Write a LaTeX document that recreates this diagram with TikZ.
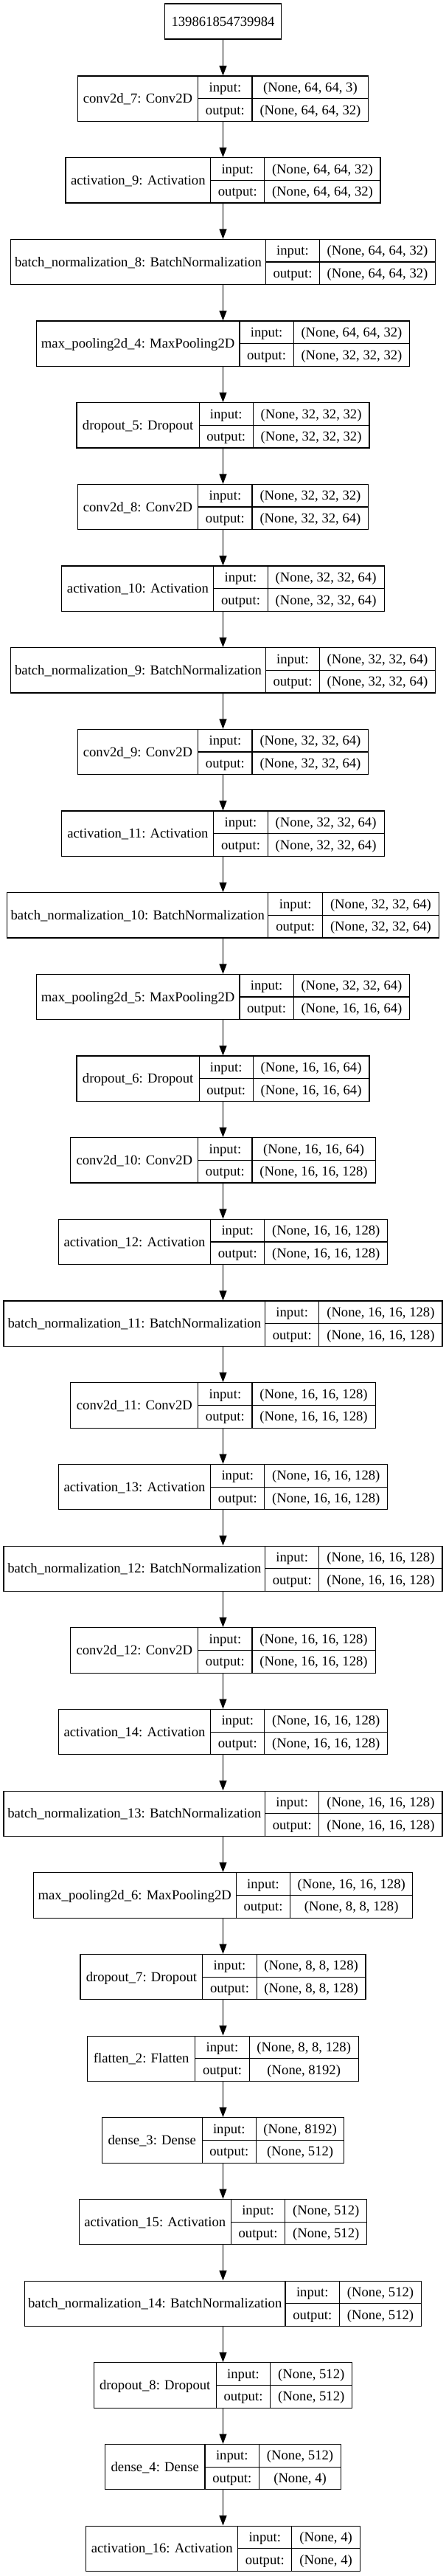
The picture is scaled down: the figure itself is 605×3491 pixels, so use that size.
\documentclass[tikz,border=0pt]{standalone}
\usepackage{fontspec}
\setmainfont{Liberation Serif}
\usetikzlibrary{arrows.meta}
\tikzset{
  rec/.style={draw, line width=0.8pt, rectangle, inner sep=0pt, minimum height=46pt},
  cell/.style={rectangle, inner sep=0pt, outer sep=0pt,
    font=\fontsize{14}{16}\selectfont, text height=12pt, text depth=3pt},
  topbox/.style={cell, draw, line width=0.8pt, minimum width=119pt, minimum height=36pt},
  divider/.style={line width=0.8pt},
  arr/.style={line width=0.8pt, -{Triangle[length=10pt,width=7.5pt]}},
}
% #1 index, #2 left x, #3 first divider x, #4 second divider x, #5 label, #6 input shape, #7 output shape
\newcommand{\kerasrec}[7]{%
  \pgfmathsetmacro{\krY}{133.67+#1*110.667}%
  \pgfmathsetmacro{\krX}{605-#2}%
  \node[rec, minimum width={(\krX-#2)*0.75pt}] (R#1) at (302.5,\krY) {};
  \node[cell, minimum width={(#3-#2)*0.75pt}, minimum height=46pt] (L#1) at ({(#2+#3)/2},\krY) {#5};
  \node[cell, minimum width={(#4-#3)*0.75pt}, minimum height=23pt] (I#1) at ({(#3+#4)/2},{\krY-15.333}) {input:};
  \node[cell, minimum width={(#4-#3)*0.75pt}, minimum height=23pt] (O#1) at ({(#3+#4)/2},{\krY+15.333}) {output:};
  \node[cell, minimum width={(\krX-#4)*0.75pt}, minimum height=23pt] (SI#1) at ({(#4+\krX)/2},{\krY-15.333}) {#6};
  \node[cell, minimum width={(\krX-#4)*0.75pt}, minimum height=23pt] (SO#1) at ({(#4+\krX)/2},{\krY+15.333}) {#7};
  \draw[divider] (L#1.north east) -- (L#1.south east);
  \draw[divider] (I#1.north east) -- (O#1.south east);
  \draw[divider] (I#1.south west) -- (SI#1.south east);
}
\begin{document}
\begin{tikzpicture}[x=0.75pt, y=-0.75pt]
\useasboundingbox (0,0) rectangle (605,3491);
\fill[white] (0,0) rectangle (605,3491);
\node[topbox] (T) at (302.5,29) {139861854739984};
\kerasrec{0}{105.1}{268.8}{342.0}{conv2d\_7: Conv2D}{(None, 64, 64, 3)}{(None, 64, 64, 32)}
\kerasrec{1}{89.0}{285.7}{358.9}{activation\_9: Activation}{(None, 64, 64, 32)}{(None, 64, 64, 32)}
\kerasrec{2}{14.6}{360.4}{433.6}{batch\_normalization\_8: BatchNormalization}{(None, 64, 64, 32)}{(None, 64, 64, 32)}
\kerasrec{3}{49.3}{325.0}{398.2}{max\_pooling2d\_4: MaxPooling2D}{(None, 64, 64, 32)}{(None, 32, 32, 32)}
\kerasrec{4}{104.0}{270.3}{343.1}{dropout\_5: Dropout}{(None, 32, 32, 32)}{(None, 32, 32, 32)}
\kerasrec{5}{105.1}{268.8}{342.0}{conv2d\_8: Conv2D}{(None, 32, 32, 32)}{(None, 32, 32, 64)}
\kerasrec{6}{83.9}{289.9}{363.1}{activation\_10: Activation}{(None, 32, 32, 64)}{(None, 32, 32, 64)}
\kerasrec{7}{14.6}{360.4}{433.6}{batch\_normalization\_9: BatchNormalization}{(None, 32, 32, 64)}{(None, 32, 32, 64)}
\kerasrec{8}{105.1}{268.8}{342.0}{conv2d\_9: Conv2D}{(None, 32, 32, 64)}{(None, 32, 32, 64)}
\kerasrec{9}{83.9}{289.9}{363.1}{activation\_11: Activation}{(None, 32, 32, 64)}{(None, 32, 32, 64)}
\kerasrec{10}{9.6}{363.9}{437.5}{batch\_normalization\_10: BatchNormalization}{(None, 32, 32, 64)}{(None, 32, 32, 64)}
\kerasrec{11}{49.3}{325.0}{398.2}{max\_pooling2d\_5: MaxPooling2D}{(None, 32, 32, 64)}{(None, 16, 16, 64)}
\kerasrec{12}{104.0}{270.3}{343.1}{dropout\_6: Dropout}{(None, 16, 16, 64)}{(None, 16, 16, 64)}
\kerasrec{13}{95.9}{268.8}{342.0}{conv2d\_10: Conv2D}{(None, 16, 16, 64)}{(None, 16, 16, 128)}
\kerasrec{14}{79.3}{285.7}{358.9}{activation\_12: Activation}{(None, 16, 16, 128)}{(None, 16, 16, 128)}
\kerasrec{15}{5.0}{359.7}{432.8}{batch\_normalization\_11: BatchNormalization}{(None, 16, 16, 128)}{(None, 16, 16, 128)}
\kerasrec{16}{95.9}{268.8}{342.0}{conv2d\_11: Conv2D}{(None, 16, 16, 128)}{(None, 16, 16, 128)}
\kerasrec{17}{79.3}{285.7}{358.9}{activation\_13: Activation}{(None, 16, 16, 128)}{(None, 16, 16, 128)}
\kerasrec{18}{5.0}{359.7}{432.8}{batch\_normalization\_12: BatchNormalization}{(None, 16, 16, 128)}{(None, 16, 16, 128)}
\kerasrec{19}{95.9}{268.8}{342.0}{conv2d\_12: Conv2D}{(None, 16, 16, 128)}{(None, 16, 16, 128)}
\kerasrec{20}{79.3}{285.7}{358.9}{activation\_14: Activation}{(None, 16, 16, 128)}{(None, 16, 16, 128)}
\kerasrec{21}{5.0}{359.7}{432.8}{batch\_normalization\_13: BatchNormalization}{(None, 16, 16, 128)}{(None, 16, 16, 128)}
\kerasrec{22}{45.1}{320.4}{393.6}{max\_pooling2d\_6: MaxPooling2D}{(None, 16, 16, 128)}{(None, 8, 8, 128)}
\kerasrec{23}{109.0}{274.9}{348.1}{dropout\_7: Dropout}{(None, 8, 8, 128)}{(None, 8, 8, 128)}
\kerasrec{24}{118.6}{264.9}{338.1}{flatten\_2: Flatten}{(None, 8, 8, 128)}{(None, 8192)}
\kerasrec{25}{138.2}{274.2}{347.4}{dense\_3: Dense}{(None, 8192)}{(None, 512)}
\kerasrec{26}{107.1}{313.5}{386.6}{activation\_15: Activation}{(None, 512)}{(None, 512)}
\kerasrec{27}{33.5}{387.0}{460.6}{batch\_normalization\_14: BatchNormalization}{(None, 512)}{(None, 512)}
\kerasrec{28}{127.1}{293.4}{366.6}{dropout\_8: Dropout}{(None, 512)}{(None, 512)}
\kerasrec{29}{142.5}{278.0}{351.6}{dense\_4: Dense}{(None, 512)}{(None, 4)}
\kerasrec{30}{116.7}{322.7}{395.9}{activation\_16: Activation}{(None, 4)}{(None, 4)}
\draw[arr] (T.south) -- (R0.north);
\foreach \k [evaluate=\k as \n using int(\k+1)] in {0,...,29}
  \draw[arr] (R\k.south) -- (R\n.north);
\end{tikzpicture}
\end{document}
